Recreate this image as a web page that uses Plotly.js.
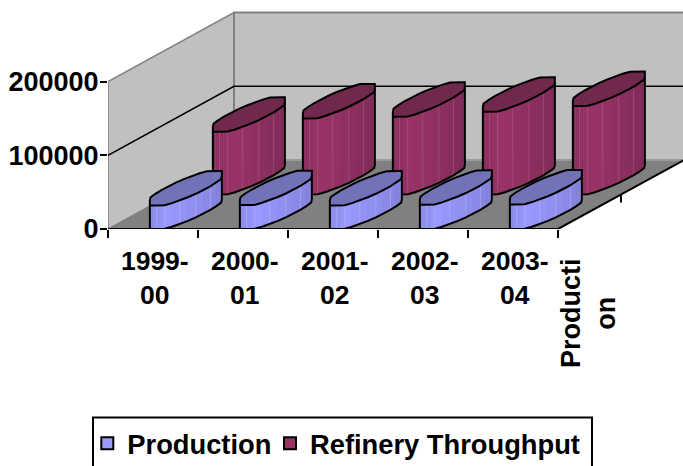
<!DOCTYPE html>
<html>
<head>
<meta charset="utf-8">
<script src="https://cdn.plot.ly/plotly-3.0.1.min.js"></script>
<style>html,body{margin:0;padding:0;background:#fff;overflow:hidden}</style>
</head>
<body>
<div id="chart" style="width:683px;height:466px"></div>
<script>
var categories = ['1999-<br>00', '2000-<br>01', '2001-<br>02', '2002-<br>03', '2003-<br>04'];
var production = [32000, 32400, 32000, 33000, 33400];
var refinery = [85100, 103300, 105500, 112300, 120100];
var seriesNames = ['Production', 'Refinery Throughput'];
var valueTicks = [0, 100000, 200000];
var depthLabel = 'Producti<br>on';

// oblique projection of the 3D box onto the cartesian axes
var DX = 1.4, DY = 93600, YMAX = 200000, NCAT = categories.length;
var RU = 0.235, RD = 0.28, DMAX = 0.25, XMAX = 0.4, SIDES = 32, OFFSET = Math.PI / SIDES;
function P(c, d, v) { return [c + d * DX, v + d * DY]; }

var traces = [];
function poly(points, fill, lineColor, lineWidth, closed) {
  var xs = points.map(function (p) { return p[0]; });
  var ys = points.map(function (p) { return p[1]; });
  if (closed) { xs.push(xs[0]); ys.push(ys[0]); }
  var t = { type: 'scatter', mode: 'lines', x: xs, y: ys, showlegend: false, hoverinfo: 'skip', cliponaxis: true,
    line: { color: lineColor || 'rgba(0,0,0,0)', width: lineWidth || 0, shape: 'linear' } };
  if (fill) { t.fill = 'toself'; t.fillcolor = fill; }
  traces.push(t);
}

// walls and floor
poly([P(0, 0, 0), P(0, 0, YMAX), P(0, 1, YMAX), P(0, 1, 0)], '#c0c0c0', '#808080', 1.5, true);
poly([P(0, 1, 0), P(0, 1, YMAX), P(NCAT, 1, YMAX), P(NCAT, 1, 0)], '#c0c0c0', '#808080', 2, true);
poly([P(0, 0, 0), P(NCAT, 0, 0), P(NCAT, 1, 0), P(0, 1, 0)], '#808080', null, 0, true);
poly([P(0, 1, 0), P(NCAT, 1, 0)], null, '#9a9a9a', 2);
valueTicks.slice(1, -1).forEach(function (v) {
  poly([P(0, 0, v), P(0, 1, v), P(NCAT, 1, v)], null, '#000', 1.6);
});
poly([P(0, 0, 0), P(NCAT, 0, 0), P(NCAT, 1, 0)], null, '#000', 2);
poly([P(NCAT, 0, 0), P(NCAT, 0, -10800)], null, '#000', 2);
poly([P(NCAT, 0.5, 0), P(NCAT, 0.5, -10800)], null, '#000', 2);

function mix(a, b, f) {
  return 'rgb(' + a.map(function (x, i) { return Math.round(x + (b[i] - x) * f); }).join(',') + ')';
}
function drawBar(catIdx, depthC, value, dark, light, capColor, lineHi) {
  var cu = catIdx + 0.515;
  var ring = [];
  for (var k = 0; k < SIDES; k++) {
    var t = OFFSET + k * 2 * Math.PI / SIDES;
    var dd = Math.max(-DMAX, Math.min(DMAX, RD * Math.sin(t)));
    var uu = RU * Math.cos(t);
    uu = Math.max(-XMAX - dd * DX, Math.min(XMAX - dd * DX, uu));
    ring.push([cu + uu, depthC + dd]);
  }
  var sx = ring.map(function (r) { return r[0] + r[1] * DX; });
  var maxX = Math.max.apply(null, sx), minX = Math.min.apply(null, sx);
  var iMax = -1, iMin = -1;
  ring.forEach(function (r, i) {
    if (sx[i] > maxX - 1e-6 && (iMax < 0 || r[1] < ring[iMax][1])) iMax = i;
    if (sx[i] < minX + 1e-6 && (iMin < 0 || r[1] < ring[iMin][1])) iMin = i;
  });
  var arc = [];
  for (var i = iMin; ; i = (i + 1) % SIDES) { arc.push(ring[i]); if (i === iMax) break; }
  var n = arc.length - 1;
  for (var j = 0; j < n; j++) {
    var f = (j + 0.5) / n;
    var shade = f < 0.35 ? 0.55 + f * 1.3 : 1 - (f - 0.35) * 1.1;
    var col = mix(dark, light, shade);
    poly([P(arc[j][0], arc[j][1], 0), P(arc[j + 1][0], arc[j + 1][1], 0),
          P(arc[j + 1][0], arc[j + 1][1], value), P(arc[j][0], arc[j][1], value)], col, col, 0.6, true);
  }
  for (var m = 2; m < n; m += 2) {
    poly([P(arc[m][0], arc[m][1], 0), P(arc[m][0], arc[m][1], value)], null, lineHi, 0.8);
  }
  var outline = [];
  arc.forEach(function (r) { outline.push(P(r[0], r[1], 0)); });
  outline.push(P(arc[n][0], arc[n][1], value));
  poly(outline, null, '#000', 2);
  poly([P(arc[0][0], arc[0][1], 0), P(arc[0][0], arc[0][1], value)], null, '#000', 2);
  poly(ring.map(function (r) { return P(r[0], r[1], value); }), capColor, '#000', 2, true);
}
refinery.forEach(function (v, i) {
  drawBar(i, 0.75, v, [112, 38, 78], [153, 51, 102], '#70294d', 'rgba(175,95,135,0.7)');
});
production.forEach(function (v, i) {
  drawBar(i, 0.25, v, [118, 118, 196], [153, 153, 255], '#7272b8', 'rgba(185,185,255,0.7)');
});

// legend entries
traces.push({ type: 'scatter', mode: 'markers', x: [null], y: [null], name: seriesNames[0], legend: 'legend',
  marker: { symbol: 'square', size: 16, color: '#9999ff', line: { color: '#000', width: 2 } } });
traces.push({ type: 'scatter', mode: 'markers', x: [null], y: [null], name: seriesNames[1], legend: 'legend2',
  marker: { symbol: 'square', size: 16, color: '#993366', line: { color: '#000', width: 2 } } });

function boldFont(size) { return { family: 'Liberation Sans, Arial, sans-serif', size: size, color: '#000', weight: 700 }; }
var legendBase = { orientation: 'h', xanchor: 'left', yanchor: 'top', font: boldFont(27.3), borderwidth: 0, bgcolor: 'rgba(0,0,0,0)', itemsizing: 'constant' };
var layout = {
  width: 683, height: 466,
  margin: { l: 108, r: 0, t: 0, b: 237, pad: 0, autoexpand: false },
  paper_bgcolor: '#fff', plot_bgcolor: '#fff',
  showlegend: true,
  hovermode: false,
  xaxis: {
    range: [0, 575 / 90], showgrid: false, zeroline: false, showline: false,
    tickmode: 'array', tickvals: categories.map(function (c, i) { return i + 0.52; }), ticktext: categories,
    ticks: '', tickangle: 0, tickfont: boldFont(26.5), ticklabelstandoff: 13,
    minor: { tickmode: 'array', tickvals: categories.map(function (c, i) { return i; }).concat([NCAT]), ticks: 'outside', ticklen: 8, tickwidth: 2, tickcolor: '#000', showgrid: false }
  },
  yaxis: {
    range: [0, 229 / 73.7 * 100000], showgrid: false, zeroline: false, showline: false,
    tickmode: 'array', tickvals: valueTicks, ticktext: valueTicks.map(String),
    ticks: 'outside', ticklen: 7, tickwidth: 2, tickcolor: '#000', tickfont: boldFont(27), ticklabelstandoff: -4
  },
  legend: Object.assign({}, legendBase, { x: -0.036, y: -0.83 }),
  legend2: Object.assign({}, legendBase, { x: (270 - 108) / 575, y: -0.83 }),
  annotations: [{
    text: depthLabel, textangle: -90, xref: 'paper', yref: 'paper', x: (588 - 108) / 575, y: -(313 - 229) / 229,
    showarrow: false, font: boldFont(27), align: 'center', xanchor: 'center', yanchor: 'middle'
  }],
  shapes: [{
    type: 'rect', xref: 'paper', yref: 'paper', x0: (93 - 108) / 575, x1: (592 - 108) / 575,
    y0: -(475 - 229) / 229, y1: -(417.5 - 229) / 229, line: { color: '#000', width: 2 }, fillcolor: 'rgba(0,0,0,0)'
  }]
};
Plotly.newPlot('chart', traces, layout, { displayModeBar: false, staticPlot: true });
</script>
</body>
</html>
